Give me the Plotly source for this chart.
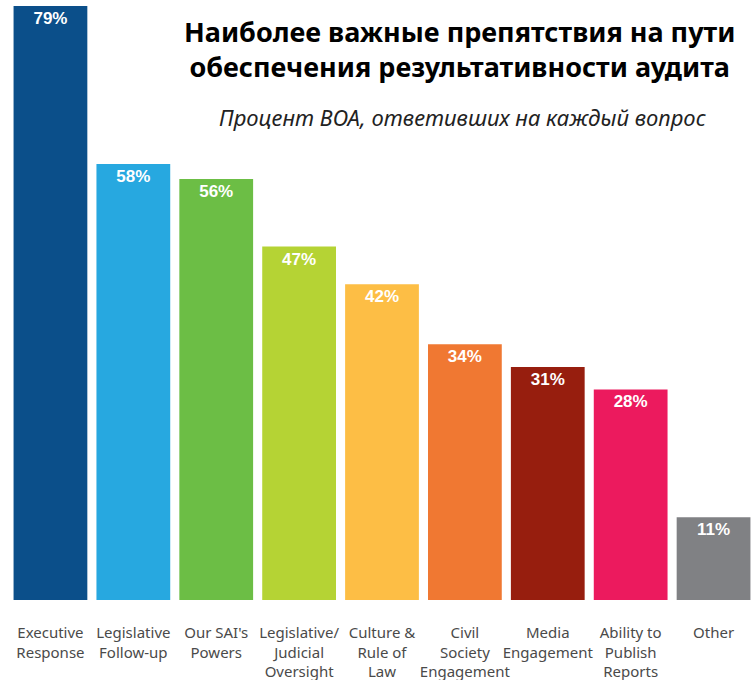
"""Bar chart: most important obstacles to audit impact."""

import plotly.graph_objects as go

CATEGORIES = [
    "Executive<br>Response",
    "Legislative<br>Follow-up",
    "Our SAI's<br>Powers",
    "Legislative/<br>Judicial<br>Oversight",
    "Culture &<br>Rule of<br>Law",
    "Civil<br>Society<br>Engagement",
    "Media<br>Engagement",
    "Ability to<br>Publish<br>Reports",
    "Other",
]
PERCENTS = [79, 58, 56, 47, 42, 34, 31, 28, 11]
COLORS = [
    "#0B4F8A", "#27A8E0", "#6CBE45", "#B5D334", "#FDBE45",
    "#F07832", "#971E0E", "#EC1A5E", "#808184",
]

TITLE = "Наиболее важные препятствия на пути<br>обеспечения результативности аудита"
SUBTITLE = "Процент ВОА, ответивших на каждый вопрос"

fig = go.Figure(
    go.Bar(
        x=CATEGORIES,
        y=PERCENTS,
        marker={"color": COLORS, "line": {"width": 0}},
        texttemplate="<b>%{y}%</b>",
        textposition="inside",
        insidetextanchor="end",
        textfont={"family": "Liberation Sans", "size": 17, "color": "white"},
        showlegend=False,
    )
)

fig.add_annotation(
    x=0.604, y=0.992, xref="paper", yref="paper", xanchor="center", yanchor="top",
    text=f"<b>{TITLE}</b>", showarrow=False, align="center",
    font={"family": "Noto Sans", "size": 27, "color": "black"},
)
fig.add_annotation(
    x=0.608, y=0.842, xref="paper", yref="paper", xanchor="center", yanchor="top",
    text=f"<i>{SUBTITLE}</i>", showarrow=False,
    font={"family": "Noto Sans", "size": 22, "color": "#222"},
)

fig.update_layout(
    width=756,
    height=680,
    margin={"l": 9, "r": 1, "t": 6, "b": 80, "autoexpand": False},
    plot_bgcolor="white",
    paper_bgcolor="white",
    bargap=0.11,
    font={"family": "Noto Sans", "size": 14, "color": "#444"},
    xaxis={
        "showline": False, "ticks": "", "tickangle": 0, "automargin": False,
        "ticklabelstandoff": 22,
        "tickfont": {"size": 15, "color": "#4a4a4a"},
    },
    yaxis={"range": [0, 79], "visible": False, "showgrid": False},
    uniformtext={"minsize": 17, "mode": "show"},
)

# the page's default body margin would shift the fixed-size figure by 8px
fig.write_html(
    "out.html",
    config={"displayModeBar": False},
    post_script="document.body.style.margin = '0';",
)
